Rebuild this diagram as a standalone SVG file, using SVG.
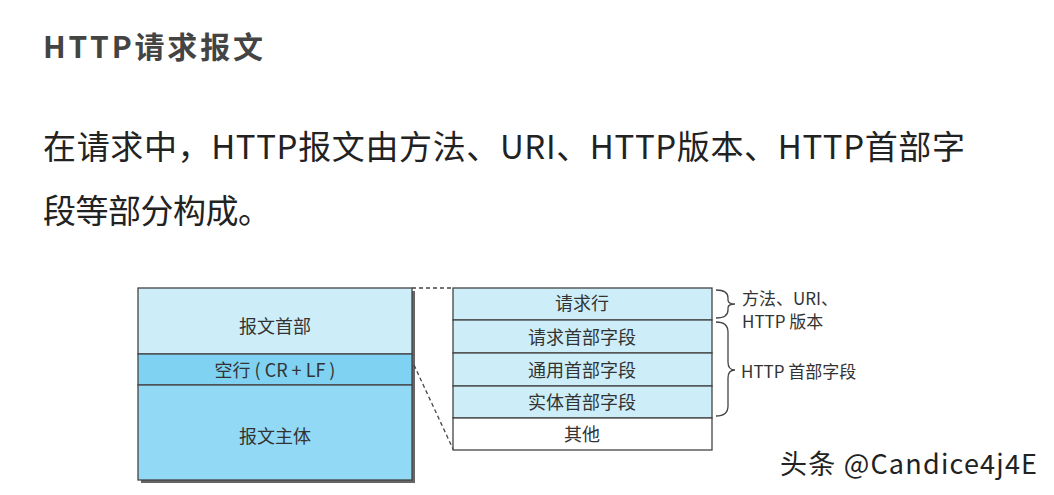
<svg xmlns="http://www.w3.org/2000/svg" width="1054" height="495" viewBox="0 0 1054 495">
<style>
text{font-family:"Noto Sans CJK SC","Noto Sans",sans-serif}
.t{font-size:18px;fill:#333;text-anchor:middle}
.s{font-size:17px;fill:#333}
.b{stroke:#444;stroke-width:1.3}
.d{stroke:#444;stroke-width:1.3;stroke-dasharray:4,3;fill:none}
</style>
<rect width="1054" height="495" fill="#fff"/>
<text x="43" y="58" font-size="30" font-weight="bold" fill="#444" textLength="220">HTTP请求报文</text>
<text x="43" y="159" font-size="33" fill="#222" textLength="922">在请求中，HTTP报文由方法、URI、HTTP版本、HTTP首部字</text>
<text x="43" y="223" font-size="33" fill="#222" textLength="228">段等部分构成。</text>
<g id="left">
<rect x="141" y="291" width="274" height="192" fill="#666"/>
<rect x="138" y="288" width="274" height="66" fill="#cdeef9" class="b"/>
<rect x="138" y="354" width="274" height="31" fill="#7fd2f2" class="b"/>
<rect x="138" y="385" width="274" height="95" fill="#92d9f5" class="b"/>
<text class="t" x="275" y="333">报文首部</text>
<text class="t" x="275" y="377">空行 ( CR + LF )</text>
<text class="t" x="275" y="443">报文主体</text>
</g>
<g id="right">
<rect x="453" y="288" width="259" height="32" fill="#cdeef9" class="b"/>
<rect x="453" y="320" width="259" height="33" fill="#cdeef9" class="b"/>
<rect x="453" y="353" width="259" height="33" fill="#cdeef9" class="b"/>
<rect x="453" y="386" width="259" height="32" fill="#cdeef9" class="b"/>
<rect x="453" y="418" width="259" height="32" fill="#fff" class="b"/>
<text class="t" x="582" y="310">请求行</text>
<text class="t" x="582" y="344">请求首部字段</text>
<text class="t" x="582" y="377">通用首部字段</text>
<text class="t" x="582" y="409">实体首部字段</text>
<text class="t" x="582" y="441">其他</text>
</g>
<g id="connectors">
<path class="d" d="M412 288 H453 M414 365 L453 449"/>
<path fill="none" stroke="#444" stroke-width="1.3" d="M716 290 Q728 290 728 298 V300 Q728 304 735 304 Q728 304 728 308 V310 Q728 318 716 318"/>
<path fill="none" stroke="#444" stroke-width="1.3" d="M716 322 Q728 322 728 332 V362 Q728 370 735 370 Q728 370 728 378 V406 Q728 416 716 416"/>
</g>
<g id="labels">
<text class="s" x="742" y="305">方法、URI、</text>
<text class="s" x="742" y="328">HTTP 版本</text>
<text class="s" x="741" y="378">HTTP 首部字段</text>
</g>
<text x="780" y="474" font-size="27" fill="#222" textLength="257">头条 @Candice4j4E</text>
</svg>
